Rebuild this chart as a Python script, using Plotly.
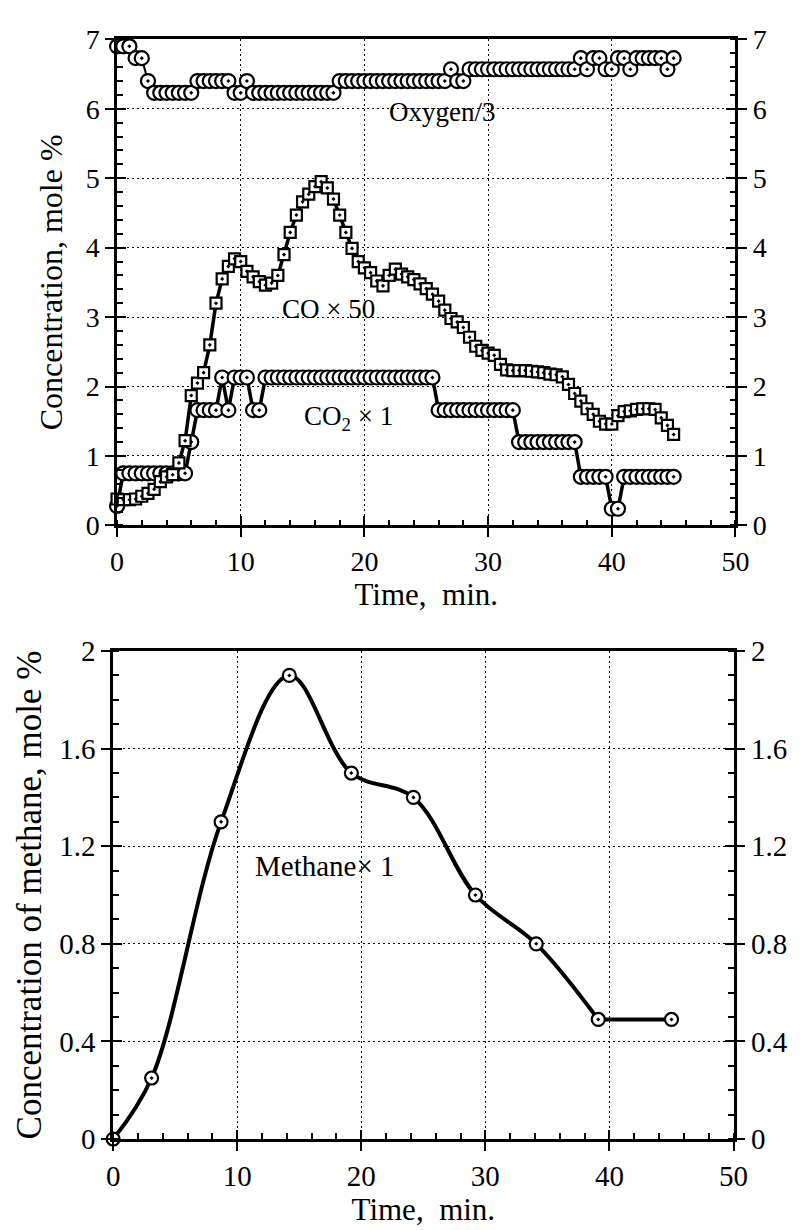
import plotly.graph_objects as go

# Sampling times of the gas analyser, min
time_min = [0, 0.5, 1, 1.5, 2, 2.5, 3, 3.5, 4, 4.5, 5, 5.5, 6, 6.5, 7, 7.5, 8, 8.5, 9, 9.5,
            10, 10.5, 11, 11.5, 12, 12.5, 13, 13.5, 14, 14.5, 15, 15.5, 16, 16.5, 17, 17.5,
            18, 18.5, 19, 19.5, 20, 20.5, 21, 21.5, 22, 22.5, 23, 23.5, 24, 24.5, 25, 25.5,
            26, 26.5, 27, 27.5, 28, 28.5, 29, 29.5, 30, 30.5, 31, 31.5, 32, 32.5, 33, 33.5,
            34, 34.5, 35, 35.5, 36, 36.5, 37, 37.5, 38, 38.5, 39, 39.5, 40, 40.5, 41, 41.5,
            42, 42.5, 43, 43.5, 44, 44.5, 45]

# Oxygen / 3, mole %
oxygen_div3 = [6.9, 6.9, 6.9, 6.73, 6.73, 6.4, 6.23, 6.23, 6.23, 6.23, 6.23, 6.23, 6.23,
               6.4, 6.4, 6.4, 6.4, 6.4, 6.4, 6.23, 6.23, 6.4,
               6.23, 6.23, 6.23, 6.23, 6.23, 6.23, 6.23, 6.23, 6.23, 6.23, 6.23, 6.23, 6.23, 6.23,
               6.4, 6.4, 6.4, 6.4, 6.4, 6.4, 6.4, 6.4, 6.4, 6.4, 6.4, 6.4, 6.4, 6.4, 6.4, 6.4, 6.4, 6.4,
               6.57, 6.4, 6.4,
               6.57, 6.57, 6.57, 6.57, 6.57, 6.57, 6.57, 6.57, 6.57, 6.57, 6.57, 6.57, 6.57, 6.57,
               6.57, 6.57, 6.57, 6.57,
               6.73, 6.57, 6.73, 6.73, 6.57, 6.57, 6.73, 6.73, 6.57,
               6.73, 6.73, 6.73, 6.73, 6.73, 6.57, 6.73]

# CO2 x 1, mole %
co2_x1 = [0.28, 0.75, 0.75, 0.75, 0.75, 0.75, 0.75, 0.75, 0.75, 0.75, 0.75, 0.75,
          1.2, 1.66, 1.66, 1.66, 1.66, 2.13, 1.66, 2.13, 2.13, 2.13, 1.66, 1.66,
          2.13, 2.13, 2.13, 2.13, 2.13, 2.13, 2.13, 2.13, 2.13, 2.13, 2.13, 2.13, 2.13, 2.13,
          2.13, 2.13, 2.13, 2.13, 2.13, 2.13, 2.13, 2.13, 2.13, 2.13, 2.13, 2.13, 2.13, 2.13,
          1.66, 1.66, 1.66, 1.66, 1.66, 1.66, 1.66, 1.66, 1.66, 1.66, 1.66, 1.66, 1.66,
          1.2, 1.2, 1.2, 1.2, 1.2, 1.2, 1.2, 1.2, 1.2, 1.2,
          0.7, 0.7, 0.7, 0.7, 0.7, 0.24, 0.24,
          0.7, 0.7, 0.7, 0.7, 0.7, 0.7, 0.7, 0.7, 0.7]

# CO x 50, mole %
co_x50 = [0.38, 0.37, 0.37, 0.38, 0.42, 0.46, 0.52, 0.63, 0.70, 0.73, 0.90, 1.22,
          1.87, 2.05, 2.2, 2.6, 3.2, 3.55, 3.73, 3.84, 3.8, 3.66, 3.58, 3.51, 3.46, 3.49,
          3.6, 3.9, 4.22, 4.47, 4.66, 4.77, 4.88, 4.95, 4.86, 4.7, 4.47, 4.22, 3.99, 3.8,
          3.71, 3.64, 3.52, 3.45, 3.6, 3.69, 3.62, 3.58, 3.54, 3.48, 3.41, 3.33, 3.23, 3.1,
          2.98, 2.93, 2.85, 2.71, 2.58, 2.52, 2.48, 2.45, 2.32, 2.24, 2.23, 2.23, 2.23, 2.22,
          2.21, 2.2, 2.18, 2.17, 2.14, 2.03, 1.9, 1.79, 1.68, 1.6, 1.5, 1.46, 1.46, 1.58,
          1.64, 1.65, 1.67, 1.68, 1.68, 1.67, 1.55, 1.44, 1.31]

# Methane x 1, mole %
methane_time = [0, 3.1, 8.7, 14.2, 19.2, 24.2, 29.2, 34.1, 39.1, 45.0]
methane_x1 = [0, 0.25, 1.3, 1.9, 1.5, 1.4, 1.0, 0.8, 0.49, 0.49]
# the last interval is a plain horizontal run, the rest is smoothed
n_smooth = 9

top_yticks = [0, 1, 2, 3, 4, 5, 6, 7]
bottom_yticks = [0, 0.4, 0.8, 1.2, 1.6, 2]
xticks = [0, 10, 20, 30, 40, 50]

FONT = "Liberation Serif, Times New Roman, serif"
TOP_TICK_FONT = dict(family=FONT, size=28, color="black")
BOT_TICK_FONT = dict(family=FONT, size=29, color="black")

fig = go.Figure()

circle = dict(symbol="circle-dot", size=14, color="white", line=dict(color="black", width=2.2))
square = dict(symbol="square-dot", size=11, color="white", line=dict(color="black", width=2.2))

fig.add_trace(go.Scatter(x=time_min, y=oxygen_div3, mode="lines+markers",
                         line=dict(color="black", width=2), marker=circle,
                         xaxis="x", yaxis="y", cliponaxis=False))
fig.add_trace(go.Scatter(x=time_min, y=co2_x1, mode="lines+markers",
                         line=dict(color="black", width=3.5), marker=circle,
                         xaxis="x", yaxis="y", cliponaxis=False))
fig.add_trace(go.Scatter(x=time_min, y=co_x50, mode="lines+markers",
                         line=dict(color="black", width=3.5), marker=square,
                         xaxis="x", yaxis="y", cliponaxis=False))

fig.add_trace(go.Scatter(x=methane_time[:n_smooth], y=methane_x1[:n_smooth], mode="lines",
                         line=dict(color="black", width=4, shape="spline", smoothing=1.0),
                         xaxis="x2", yaxis="y2", cliponaxis=False))
fig.add_trace(go.Scatter(x=methane_time[n_smooth - 1:], y=methane_x1[n_smooth - 1:],
                         mode="lines", line=dict(color="black", width=4),
                         xaxis="x2", yaxis="y2", cliponaxis=False))
fig.add_trace(go.Scatter(x=methane_time, y=methane_x1, mode="markers",
                         marker=dict(symbol="circle-dot", size=13, color="white",
                                     line=dict(color="black", width=2.2)),
                         xaxis="x2", yaxis="y2", cliponaxis=False))

# empty traces that bind the extra tick-only axes to a subplot
for xa, ya in [("x3", "y"), ("x", "y3"), ("x", "y4"), ("x", "y5"),
               ("x4", "y2"), ("x2", "y6"), ("x2", "y7"), ("x2", "y8")]:
    fig.add_trace(go.Scatter(x=[None], y=[None], xaxis=xa, yaxis=ya,
                             showlegend=False, hoverinfo="skip"))

W, H = 804, 1230
top_x = [113 / W, 748 / W]
top_y = [1 - 523 / H, 1 - 24 / H]
bot_x = [109 / W, 746 / W]
bot_y = [1 - 1153 / H, 1 - 652 / H]

grid = dict(showgrid=True, gridcolor="black", gridwidth=1.2, griddash="2px,3px")


def main_axis(rng, ticks, minor_dtick, domain, anchor, font, title=None, title_size=31,
              side=None, mirror=False, show_grid=True):
    ax = dict(range=rng, domain=domain, anchor=anchor, tickvals=ticks,
              ticks="outside", ticklen=9, tickwidth=2, tickcolor="black",
              showline=True, linecolor="black", linewidth=2.5, mirror=mirror,
              zeroline=False, tickfont=font,
              minor=dict(dtick=minor_dtick, ticks="inside", ticklen=6, tickwidth=1.5,
                         tickcolor="black", showgrid=False))
    if show_grid:
        ax.update(grid)
    else:
        ax["showgrid"] = False
    if title:
        ax["title"] = dict(text=title, font=dict(family=FONT, size=title_size, color="black"))
    if side:
        ax["side"] = side
    return ax


def inner_axis(rng, ticks, anchor, overlay, side=None):
    ax = dict(range=rng, anchor=anchor, overlaying=overlay, tickvals=ticks,
              ticks="inside", ticklen=9, tickwidth=2, tickcolor="black",
              showline=False, showgrid=False, zeroline=False, showticklabels=False)
    if side:
        ax["side"] = side
    return ax


xr = [0, 50]
ytop = [0, 7]
ybot = [0, 2]

fig.update_layout(
    width=W, height=H,
    margin=dict(l=0, r=0, t=0, b=0),
    paper_bgcolor="white", plot_bgcolor="white",
    showlegend=False,
    font=dict(family=FONT, color="black"),
    xaxis=main_axis(xr, xticks, 2, top_x, "y", TOP_TICK_FONT,
                    title="Time,\u00a0 min.", title_size=31, mirror=True),
    yaxis=main_axis(ytop, top_yticks, 0.2, top_y, "x", TOP_TICK_FONT,
                    title="Concentration, mole %", title_size=32, mirror=True),
    xaxis2=main_axis(xr, xticks, 2, bot_x, "y2", BOT_TICK_FONT,
                     title="Time,\u00a0 min.", title_size=31, mirror=True),
    yaxis2=main_axis(ybot, bottom_yticks, 0.1, bot_y, "x2", BOT_TICK_FONT,
                     title="Concentration of methane, mole %", title_size=35, mirror=True),
    xaxis3=inner_axis(xr, xticks, "y", "x"),
    yaxis3=main_axis(ytop, top_yticks, 0.2, top_y, "x", TOP_TICK_FONT,
                     side="right", show_grid=False),
    yaxis4=inner_axis(ytop, top_yticks, "x", "y"),
    yaxis5=inner_axis(ytop, top_yticks, "x", "y", side="right"),
    xaxis4=inner_axis(xr, xticks, "y2", "x2"),
    yaxis6=main_axis(ybot, bottom_yticks, 0.1, bot_y, "x2", BOT_TICK_FONT,
                     side="right", show_grid=False),
    yaxis7=inner_axis(ybot, bottom_yticks, "x2", "y2"),
    yaxis8=inner_axis(ybot, bottom_yticks, "x2", "y2", side="right"),
)
fig.layout.yaxis3.overlaying = "y"
fig.layout.yaxis6.overlaying = "y2"
fig.layout.xaxis.title.standoff = 2
fig.layout.xaxis2.title.standoff = 2
fig.layout.yaxis.title.standoff = 14
fig.layout.yaxis2.title.standoff = 8

ann_font = dict(family=FONT, size=27, color="black")
fig.add_annotation(x=26.3, y=5.95, xref="x", yref="y", text="Oxygen/3",
                   showarrow=False, font=ann_font)
fig.add_annotation(x=17.1, y=3.12, xref="x", yref="y", text="CO \u00d7 50",
                   showarrow=False, font=ann_font)
fig.add_annotation(x=18.7, y=1.55, xref="x", yref="y", text="CO<sub>2</sub> \u00d7 1",
                   showarrow=False, font=ann_font)
fig.add_annotation(x=17.1, y=1.12, xref="x2", yref="y2", text="Methane\u00d7 1",
                   showarrow=False, font=dict(family=FONT, size=29, color="black"))

fig.write_html("out.html")
